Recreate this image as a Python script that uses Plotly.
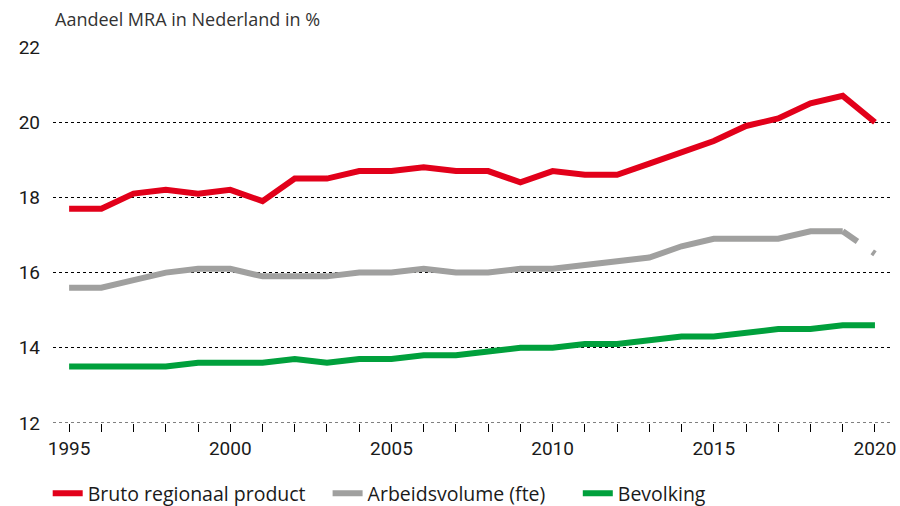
import plotly.graph_objects as go

years = list(range(1995, 2021))

bruto_regionaal_product = [17.7, 17.7, 18.1, 18.2, 18.1, 18.2, 17.9, 18.5, 18.5, 18.7,
                           18.7, 18.8, 18.7, 18.7, 18.4, 18.7, 18.6, 18.6, 18.9, 19.2,
                           19.5, 19.9, 20.1, 20.5, 20.7, 20.0]
arbeidsvolume = [15.6, 15.6, 15.8, 16.0, 16.1, 16.1, 15.9, 15.9, 15.9, 16.0,
                 16.0, 16.1, 16.0, 16.0, 16.1, 16.1, 16.2, 16.3, 16.4, 16.7,
                 16.9, 16.9, 16.9, 17.1, 17.1, 16.5]
bevolking = [13.5, 13.5, 13.5, 13.5, 13.6, 13.6, 13.6, 13.7, 13.6, 13.7,
             13.7, 13.8, 13.8, 13.9, 14.0, 14.0, 14.1, 14.1, 14.2, 14.3,
             14.3, 14.4, 14.5, 14.5, 14.6, 14.6]

y_ticks = [12, 14, 16, 18, 20, 22]
x_labels = [str(y) if y % 5 == 0 else "" for y in years]

RED = "#E2001A"
GREY = "#A0A09F"
GREEN = "#00A03C"
FONT = "Open Sans"
LW = 6

fig = go.Figure()

fig.add_trace(go.Scatter(
    x=years, y=bruto_regionaal_product, mode="lines", name="Bruto regionaal product",
    line=dict(color=RED, width=LW), legend="legend"))

# labour volume: solid up to 2019, dashed for the last (provisional) year
fig.add_trace(go.Scatter(
    x=years[:-1], y=arbeidsvolume[:-1], mode="lines", name="Arbeidsvolume (fte)",
    line=dict(color=GREY, width=LW), legend="legend2"))
fig.add_trace(go.Scatter(
    x=years[-2:], y=arbeidsvolume[-2:], mode="lines", showlegend=False,
    line=dict(color=GREY, width=LW, dash="dash")))

fig.add_trace(go.Scatter(
    x=years, y=bevolking, mode="lines", name="Bevolking",
    line=dict(color=GREEN, width=LW), legend="legend3"))


def legend_at(x):
    return dict(orientation="h", xref="container", x=x, xanchor="left",
                yref="container", y=0.063, yanchor="top",
                font=dict(family=FONT, size=19.5, color="#1a1a1a"),
                bgcolor="rgba(0,0,0,0)")


fig.update_layout(
    width=900, height=506,
    margin=dict(l=53, r=7, t=47, b=83, autoexpand=False),
    plot_bgcolor="white", paper_bgcolor="white",
    font=dict(family=FONT, color="#1a1a1a", size=18),
    showlegend=True,
    legend=legend_at(0.053),
    legend2=legend_at(0.364),
    legend3=legend_at(0.642),
    annotations=[dict(
        text="Aandeel MRA in Nederland in %", xref="paper", yref="paper",
        x=0.0, y=1.074, xanchor="left", yanchor="middle", showarrow=False,
        font=dict(family=FONT, size=18, color="#333333"))],
    # dotted baseline at the bottom of the value range
    shapes=[dict(type="line", xref="paper", yref="y", x0=0, x1=1, y0=12, y1=12,
                 line=dict(color="black", width=1, dash="dot"), layer="below")],
)

fig.update_xaxes(
    range=[1994.5, 2020.56], tickmode="array", tickvals=years, ticktext=x_labels,
    ticks="outside", ticklen=8, tickcolor="black", tickwidth=1,
    showgrid=False, showline=False, zeroline=False,
    tickfont=dict(family="Roboto", size=19, color="#1a1a1a"))

fig.update_yaxes(
    range=[12, 22], tickmode="array", tickvals=y_ticks,
    showgrid=True, gridcolor="black", gridwidth=1, griddash="dot",
    showline=False, zeroline=False, ticks="", ticklabelstandoff=12,
    tickfont=dict(family="Roboto", size=19, color="#1a1a1a"))

fig.write_html("out.html")
